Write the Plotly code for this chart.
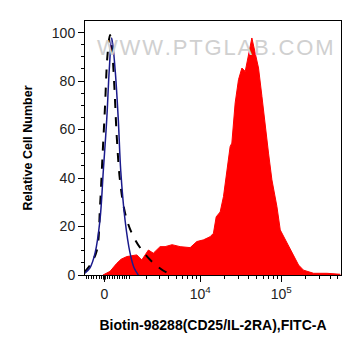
import numpy as np
import plotly.graph_objects as go

# ---- data (display channel units: 4 = 10^4, 5 = 10^5) ----
blue_x = [2.568, 2.642, 2.704, 2.765, 2.806, 2.848, 2.880, 2.910, 2.951, 2.991, 3.021, 3.074, 3.136, 3.185, 3.238]
blue_y = [0.5, 3, 9, 22.7, 43, 64, 85, 97.8, 85, 64, 43, 22.7, 9, 3, 0]

dash_x = [2.568, 2.642, 2.725, 2.765, 2.794, 2.827, 2.856, 2.889, 2.914, 2.942, 2.972, 3.012, 3.074, 3.157, 3.280, 3.423, 3.589, 3.691]
dash_y = [1, 4, 10, 28, 47.5, 69.5, 90, 99, 93, 78, 57, 39, 25.6, 17.3, 10.3, 5, 1, 0.3]

red_x = [2.802, 2.889, 2.972, 3.025, 3.095, 3.148, 3.219, 3.280, 3.362, 3.423, 3.506, 3.568, 3.654, 3.753,
         3.877, 3.959, 4.041, 4.123, 4.164, 4.198, 4.247, 4.288, 4.330, 4.370, 4.391, 4.432, 4.473, 4.515,
         4.556, 4.596, 4.638, 4.679, 4.720, 4.762, 4.802, 4.843, 4.885, 4.947, 4.988, 5.070, 5.152, 5.214,
         5.275, 5.399, 5.564, 5.728]
red_y = [0, 1.5, 4.8, 6.5, 7.6, 8, 8.3, 6.2, 10.3, 9, 11.7, 11.7, 12.5, 11.7,
         11.3, 13.8, 14.5, 15.8, 17.2, 24, 26, 32.4, 43.4, 53, 54.4, 71, 80.6, 85.4,
         84, 90.2, 97.8, 91.6, 85.4, 73.7, 61.3, 50.3, 39.3, 28.2, 18.6, 13.1, 7.6, 4.1,
         2, 0.7, 0.7, 0.3]

x_major_values = [0, 10000, 100000]
x_major_labels = ["0", "10<sup>4</sup>", "10<sup>5</sup>"]
y_tick_values = [0, 20, 40, 60, 80, 100]

C = 661.0
def disp(v):
    return np.log10(C) + np.arcsinh(v / (2 * C)) / np.log(10)

minor_vals = (list(range(-900, 0, 100)) + list(range(100, 1000, 100)) +
              list(range(1000, 10000, 1000)) + list(range(20000, 100000, 10000)) +
              list(range(200000, 600000, 100000)))
x_minor = [float(disp(v)) for v in minor_vals]
x_major = [float(disp(v)) for v in x_major_values]

fig = go.Figure()
fig.add_trace(go.Scatter(x=red_x, y=red_y, mode="lines", fill="tozeroy",
                         line=dict(color="#ff0000", width=1), fillcolor="#ff0000"))
fig.add_trace(go.Scatter(x=dash_x, y=dash_y, mode="lines", line_shape="spline",
                         line=dict(color="black", width=2, dash="dash")))
fig.add_trace(go.Scatter(x=blue_x, y=blue_y, mode="lines", line_shape="spline",
                         line=dict(color="#1a1a8c", width=1.5)))

x_lo = 4 + (85 - 200) / 81
x_hi = 4 + (340.7 - 200) / 81
fig.update_layout(
    width=345, height=340, showlegend=False,
    margin=dict(l=77, r=12, t=13, b=73),
    plot_bgcolor="white", paper_bgcolor="white",
    font=dict(family="Liberation Sans, Arial", color="#222"),
    xaxis=dict(range=[x_lo, x_hi], showgrid=False, zeroline=False,
               showline=True, linecolor="black", linewidth=1, mirror=True,
               tickmode="array", tickvals=x_major, ticktext=x_major_labels,
               ticks="outside", ticklen=6, tickcolor="black",
               tickfont=dict(size=14, color="#222"),
               minor=dict(tickmode="array", tickvals=x_minor, ticks="outside", ticklen=3, tickcolor="black"),
               title=dict(text="<b>Biotin-98288(CD25/IL-2RA),FITC-A</b>", font=dict(size=14, color="black"), standoff=19)),
    yaxis=dict(range=[0, 104.8], showgrid=False, zeroline=False,
               showline=True, linecolor="black", linewidth=1, mirror=True,
               tickmode="array", tickvals=y_tick_values,
               ticks="outside", ticklen=6, tickcolor="black",
               tickfont=dict(size=14, color="#222"),
               minor=dict(dtick=5, ticks="outside", ticklen=3, tickcolor="black"),
               title=dict(text="<b>Relative Cell Number</b>", font=dict(size=12.5, color="black"), standoff=16)),
)

fig.add_shape(type="rect", xref="x", yref="paper", x0=x_major[0] - 0.018, x1=x_major[0] + 0.018,
              y0=-0.018, y1=0, fillcolor="black", line=dict(width=0))

wm = "\u200a".join("WWW.PTGLAB.COM")
fig.add_annotation(text=wm, xref="paper", yref="paper", x=0.51, y=0.953, showarrow=False,
                   font=dict(size=22, color="#d0d0d0", family="Liberation Sans, Arial"))

fig.write_html("out.html")
